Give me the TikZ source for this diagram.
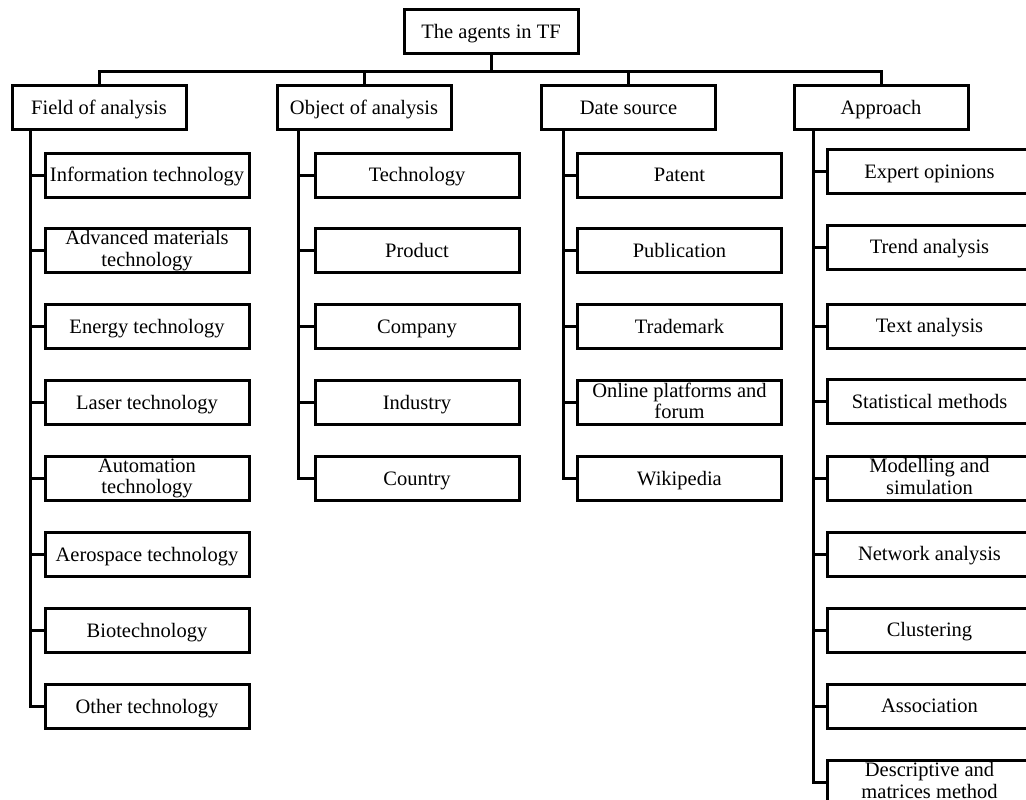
\documentclass[tikz,border=0pt]{standalone}
\usepackage{fontspec}
\setmainfont{Liberation Serif}
% invisible rule giving every line of box text the same height and depth
\newcommand{\boxstrut}{\rule[-.17em]{0pt}{1.02em}}
\begin{document}
\begin{tikzpicture}[x=1pt,y=-1pt,
  box/.style={draw, line width=3pt, minimum height=44pt, inner sep=1pt,
              align=center, font=\fontsize{20.5}{21.5}\selectfont,
              execute at begin node=\boxstrut, execute at end node=\boxstrut},
  leaf/.style={box, minimum width=204pt},
  head/.style={box, minimum width=174pt},
  link/.style={line width=3pt}]
\clip (0,0) rectangle (1026,800);
\useasboundingbox (0,0) rectangle (1026,800);

% root and the four categories
\node[head] (root) at (491,32) {The agents in TF};
\node[head] (field)    at (99,107.5)   {Field of analysis};
\node[head] (object)   at (364,107.5)  {Object of analysis};
\node[head] (source)   at (628.5,107.5){Date source};
\node[head] (approach) at (881,107.5)  {Approach};

% bus connecting root to categories
\coordinate (bus) at (491,72);
\draw[link] (root.south) -- (root.south |- bus);
\draw[link] (field.north) -- (field.north |- bus) -- (approach.north |- bus) -- (approach.north);
\draw[link] (object.north) -- (object.north |- bus);
\draw[link] (source.north) -- (source.north |- bus);

% spines
\coordinate (fsp) at (30,0);
\coordinate (osp) at (298,0);
\coordinate (ssp) at (563,0);
\coordinate (asp) at (813,0);

% Field of analysis
\foreach \t/\y [count=\i] in {
  {Information technology}/175,
  {Advanced materials\\technology}/250.5,
  {Energy technology}/326.5,
  {Laser technology}/402.5,
  {Automation\\technology}/478.5,
  {Aerospace technology}/554.5,
  {Biotechnology}/630.5,
  {Other technology}/706.5}
{
  \node[leaf] (f\i) at (147,\y) {\t};
  \draw[link] (f\i.west) -- (f\i.west -| fsp);
}
\draw[link] (field.south -| fsp) |- (f8.west);

% Object of analysis
\foreach \t/\y [count=\i] in {
  Technology/175, Product/250.5, Company/326.5, Industry/402.5, Country/478.5}
{
  \node[leaf] (o\i) at (417,\y) {\t};
  \draw[link] (o\i.west) -- (o\i.west -| osp);
}
\draw[link] (object.south -| osp) |- (o5.west);

% Date source
\foreach \t/\y [count=\i] in {
  Patent/175, Publication/250.5, Trademark/326.5,
  {Online platforms and\\forum}/402.5, Wikipedia/478.5}
{
  \node[leaf] (s\i) at (679.5,\y) {\t};
  \draw[link] (s\i.west) -- (s\i.west -| ssp);
}
\draw[link] (source.south -| ssp) |- (s5.west);

% Approach
\foreach \t/\y [count=\i] in {
  {Expert opinions}/171.5,
  {Trend analysis}/247,
  {Text analysis}/326,
  {Statistical methods}/401.5,
  {Modelling and\\simulation}/478,
  {Network analysis}/554,
  {Clustering}/630,
  {Association}/706,
  {Descriptive and\\matrices method}/782}
{
  \node[leaf] (a\i) at (929.5,\y) {\t};
  \draw[link] (a\i.west) -- (a\i.west -| asp);
}
\draw[link] (approach.south -| asp) |- (a9.west);
\end{tikzpicture}
\end{document}
